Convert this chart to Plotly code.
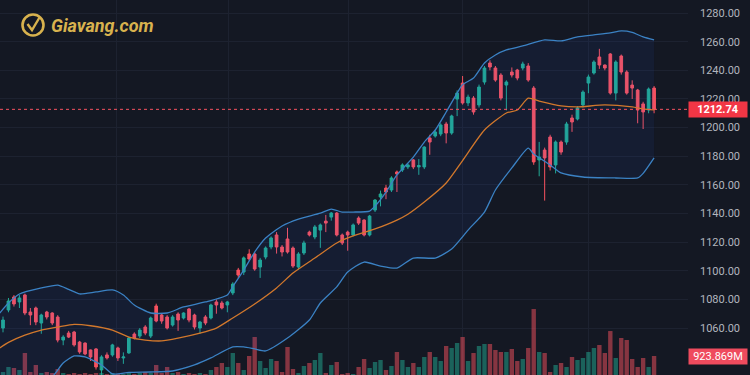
import plotly.graph_objects as go

# ---------------- data ----------------
opens = [1060.0, 1072.6, 1081.7, 1078.2, 1083.1, 1071.2, 1074.0, 1063.5, 1071.2, 1070.5,
         1067.7, 1051.6, 1056.5, 1057.2, 1050.2, 1049.5, 1044.7, 1045.4, 1030.7, 1041.2,
         1041.2, 1046.1, 1039.1, 1042.6, 1055.8, 1054.4, 1060.7, 1054.4, 1075.4, 1069.1,
         1067.7, 1062.1, 1069.8, 1067.0, 1073.3, 1069.1, 1060.0, 1067.7, 1067.0, 1078.2,
         1077.5, 1076.1, 1084.5, 1100.5, 1099.1, 1111.7, 1111.7, 1102.6, 1109.6, 1116.6,
         1125.0, 1116.6, 1122.2, 1115.9, 1102.6, 1112.4, 1127.0, 1123.6, 1128.4, 1134.7,
         1137.5, 1140.3, 1125.0, 1127.0, 1125.0, 1136.8, 1135.4, 1125.0, 1142.4, 1151.5,
         1157.8, 1156.4, 1169.0, 1170.4, 1172.5, 1177.4, 1172.5, 1172.5, 1192.7, 1194.1,
         1195.5, 1202.5, 1196.2, 1219.9, 1231.1, 1217.2, 1220.6, 1215.8, 1231.8, 1245.1,
         1241.6, 1236.7, 1229.7, 1238.8, 1240.2, 1241.6, 1243.0, 1227.6, 1177.4, 1184.3,
         1193.4, 1173.9, 1189.9, 1189.9, 1206.7, 1206.0, 1215.8, 1231.1, 1238.1, 1249.3,
         1243.7, 1251.4, 1224.1, 1250.0, 1238.8, 1229.7, 1226.2, 1216.5, 1212.3, 1227.6]

closes = [1065.6, 1078.9, 1076.8, 1081.0, 1070.5, 1069.1, 1064.2, 1069.1, 1067.7, 1063.5,
          1051.6, 1053.7, 1053.7, 1048.2, 1043.3, 1041.9, 1039.8, 1032.8, 1039.8, 1039.1,
          1048.2, 1039.1, 1039.8, 1053.0, 1053.0, 1058.6, 1056.5, 1067.0, 1064.9, 1064.9,
          1060.0, 1067.7, 1065.6, 1070.5, 1065.6, 1060.7, 1064.2, 1063.5, 1076.1, 1076.1,
          1074.0, 1078.2, 1090.7, 1097.0, 1109.0, 1108.2, 1101.2, 1107.5, 1115.9, 1122.9,
          1116.6, 1113.1, 1113.1, 1103.3, 1111.7, 1119.4, 1125.0, 1130.6, 1132.0, 1133.3,
          1140.3, 1125.0, 1119.4, 1125.0, 1132.0, 1133.3, 1125.0, 1138.2, 1149.4, 1153.6,
          1155.0, 1164.8, 1167.6, 1173.9, 1173.9, 1172.5, 1173.5, 1186.4, 1189.9, 1196.9,
          1201.8, 1196.2, 1208.1, 1224.1, 1217.2, 1221.3, 1210.9, 1228.3, 1241.6, 1242.3,
          1233.2, 1220.6, 1231.8, 1236.7, 1234.6, 1244.4, 1233.2, 1176.0, 1179.4, 1178.8,
          1172.5, 1189.9, 1182.9, 1202.5, 1203.9, 1213.7, 1224.8, 1235.3, 1245.8, 1243.7,
          1241.6, 1224.1, 1245.8, 1238.8, 1224.1, 1227.6, 1212.3, 1210.9, 1226.9, 1212.74]

highs = [1068, 1081, 1083, 1083, 1084, 1074, 1075, 1070, 1072, 1071,
         1069, 1055, 1058, 1058, 1051, 1050, 1045, 1046, 1041, 1043,
         1049, 1047, 1043, 1054, 1057, 1060, 1062, 1068, 1077, 1070,
         1069, 1069, 1071, 1071, 1074, 1070, 1065, 1069, 1077, 1080,
         1079, 1079, 1092, 1102, 1110, 1115, 1113, 1109, 1117, 1124,
         1127, 1118, 1130, 1117, 1113, 1121, 1128, 1132, 1133, 1139,
         1141, 1141, 1126, 1128, 1133, 1138, 1136, 1139, 1150, 1156,
         1160, 1166, 1170, 1175, 1175, 1178, 1178, 1187, 1195, 1198,
         1203, 1204, 1209, 1226, 1236, 1223, 1222, 1230, 1243, 1247,
         1243, 1238, 1233, 1242, 1241, 1246, 1245, 1229, 1190, 1186,
         1195, 1191, 1191, 1204, 1209, 1215, 1226, 1237, 1247, 1255,
         1244, 1252, 1247, 1251, 1240, 1233, 1227, 1218, 1228, 1229]

lows = [1057, 1071, 1075, 1074, 1069, 1062, 1062, 1056, 1066, 1062,
        1050, 1048, 1053, 1047, 1042, 1041, 1037, 1031, 1027, 1038,
        1040, 1037, 1035, 1042, 1052, 1053, 1055, 1053, 1064, 1063,
        1059, 1061, 1058, 1066, 1064, 1059, 1056, 1062, 1066, 1070,
        1073, 1071, 1083, 1095, 1097, 1107, 1100, 1095, 1108, 1115,
        1112, 1110, 1112, 1102, 1101, 1111, 1124, 1122, 1116, 1127,
        1135, 1124, 1118, 1114, 1124, 1132, 1124, 1124, 1141, 1145,
        1150, 1155, 1155, 1169, 1171, 1171, 1167, 1171, 1181, 1193,
        1194, 1189, 1195, 1208, 1216, 1215, 1209, 1214, 1230, 1240,
        1232, 1219, 1212, 1235, 1233, 1240, 1232, 1174, 1166, 1149,
        1170, 1168, 1181, 1188, 1197, 1205, 1214, 1224, 1237, 1241,
        1240, 1223, 1219, 1237, 1223, 1220, 1203, 1199, 1210, 1210]

# volume in millions
volumes = [146, 389, 340, 243, 1069, 146, 486, 97, 146, 97,
           292, 97, 49, 97, 49, 97, 49, 97, 97, 49,
           97, 49, 49, 97, 49, 97, 146, 97, 486, 97,
           389, 97, 146, 49, 97, 49, 97, 49, 243, 389,
           583, 389, 1069, 583, 243, 924, 1847, 680, 340, 778,
           680, 146, 1361, 292, 97, 437, 583, 729, 1069, 97,
           486, 632, 49, 97, 49, 389, 778, 340, 632, 729,
           243, 437, 1118, 729, 389, 583, 389, 875, 1118, 875,
           680, 1409, 1312, 1555, 1847, 680, 1069, 1409, 1507, 1507,
           1215, 1118, 1118, 1264, 680, 778, 1312, 3208, 1118, 1069,
           146, 486, 583, 389, 875, 729, 826, 1118, 1312, 1458,
           1069, 2138, 826, 1798, 1701, 778, 389, 826, 389, 923.869]

# Bollinger bands (bar index -> price)
upper_x = [-0.6, 1, 3, 7, 10, 12, 14, 17, 20, 22, 24, 27, 30, 33, 37, 41, 42, 44, 46, 48,
           51, 54, 58, 60, 62, 64, 67, 68, 70, 72, 75, 77, 79, 81, 83, 84, 86, 88, 90, 92,
           95, 99, 102, 105, 108, 111, 113, 115, 117, 119]
upper = [1070.5, 1077.5, 1083.8, 1088, 1090, 1087, 1083.8, 1085.2, 1086.6, 1083.1,
         1076.1, 1070.5, 1070.5, 1074.7, 1078.2, 1083.1, 1089, 1100.5, 1113.1, 1122.9,
         1131.3, 1136.1, 1140.3, 1143.1, 1141.0, 1141.0, 1141.7, 1145.2, 1155.0, 1166.9,
         1179.4, 1189.9, 1198.3, 1210.9, 1224.1, 1230, 1234.6, 1245.1, 1250.7, 1254.2,
         1257.0, 1261.2, 1260.5, 1263.3, 1264.7, 1266.1, 1267.5, 1266.5, 1263.3, 1261.2]

mid_x = [-0.6, 1, 4, 7, 10, 13, 16, 20, 23, 26, 29, 32, 36, 39, 42, 46, 50, 53, 57, 61,
         64, 68, 72, 74, 77, 81, 84, 88, 92, 94, 96, 98, 102, 105, 110, 115, 117, 119]
mid = [1046.1, 1050, 1055, 1058.6, 1060.7, 1062.6, 1061.6, 1058.6, 1053.7, 1051.6,
       1051.0, 1053.0, 1056.5, 1060.0, 1067, 1076.8, 1088, 1098.4, 1108.9, 1119.4,
       1124.3, 1129.2, 1135.4, 1139.5, 1148, 1161.3, 1177, 1198.3, 1210.2, 1212.3,
       1220.6, 1218.5, 1215.1, 1214.4, 1215.8, 1214.4, 1213.0, 1212.3]

lower_x = [-0.6, 5, 9, 11, 13, 15, 18, 20, 23, 27, 31, 35, 38, 42, 44, 46, 48, 52, 56, 58,
           61, 63, 66, 69, 72, 75, 79, 82, 85, 88, 90, 93, 96, 97, 100, 102, 106, 112, 116, 117,
           119]
lower = [1020, 1018, 1026, 1035.6, 1040.5, 1039.8, 1034.2, 1028.0, 1029, 1029.3,
         1030.0, 1034.2, 1039.1, 1046.8, 1046.8, 1045.4, 1044.0, 1053.0, 1065.6, 1077.5,
         1088.7, 1099.1, 1106.1, 1103.3, 1101.9, 1108.9, 1108.9, 1115.2, 1128.4, 1141.0,
         1156.4, 1171.8, 1185.7, 1181.5, 1173.9, 1168.3, 1165.5, 1164.8, 1164.8, 1168,
         1178.8]

price_ticks = [1060, 1080, 1100, 1120, 1140, 1160, 1180, 1200, 1220, 1240, 1260, 1280]
month_lines = [20.8, 41.2, 63.1, 84.0, 107.0]

# ---------------- styling ----------------
W, H = 750, 375
ML, MR = 0, 62
PW = W - ML - MR
BG = "#141823"
UP = "#22ab94"
DN = "#f7525f"
UP_V = "rgba(34,171,148,0.50)"
DN_V = "rgba(247,82,95,0.50)"
GRID = "#1d2230"
BAND = "#3b82c4"
MIDC = "#d2782c"

idx = list(range(len(opens)))
vol_colors = [UP_V if c >= o else DN_V for o, c in zip(opens, closes)]

fig = go.Figure()

# volume (bottom layer, axis y)
fig.add_trace(go.Bar(x=idx, y=volumes, marker_color=vol_colors, marker_line_width=0,
                     yaxis="y", hoverinfo="skip", showlegend=False))

# bands + candles on y2 (price)
fig.add_trace(go.Scatter(x=upper_x, y=upper, mode="lines", yaxis="y2",
                         line=dict(color=BAND, width=1.3, shape="spline", smoothing=0.6),
                         hoverinfo="skip", showlegend=False))
fig.add_trace(go.Scatter(x=lower_x, y=lower, mode="lines", yaxis="y2", fill="tonexty",
                         fillcolor="rgba(41,98,255,0.07)",
                         line=dict(color=BAND, width=1.3, shape="spline", smoothing=0.6),
                         hoverinfo="skip", showlegend=False))
fig.add_trace(go.Scatter(x=mid_x, y=mid, mode="lines", yaxis="y2",
                         line=dict(color=MIDC, width=1.3, shape="spline", smoothing=0.6),
                         hoverinfo="skip", showlegend=False))
fig.add_trace(go.Candlestick(x=idx, open=opens, high=highs, low=lows, close=closes,
                             yaxis="y2",
                             increasing=dict(line=dict(color=UP, width=1), fillcolor=UP),
                             decreasing=dict(line=dict(color=DN, width=1), fillcolor=DN),
                             whiskerwidth=0, hoverinfo="skip", showlegend=False))

last = closes[-1]
vol_top = volumes[-1] * H / 19.0   # last volume bar is ~19 px tall

fig.update_layout(
    width=W, height=H,
    margin=dict(l=ML, r=MR, t=0, b=0),
    paper_bgcolor=BG, plot_bgcolor=BG,
    bargap=0.2,
    showlegend=False,
    hovermode=False,
    font=dict(family="Roboto, Arial, sans-serif", color="#b2b5be", size=11),
    xaxis=dict(range=[-0.55, 125.2], showticklabels=False, tickvals=month_lines,
               showgrid=True, gridcolor=GRID, gridwidth=1, zeroline=False,
               rangeslider=dict(visible=False), showline=False, fixedrange=True),
    yaxis=dict(range=[0, vol_top], visible=False, showgrid=False, fixedrange=True),
    yaxis2=dict(range=[1027.2, 1289.1], overlaying="y", side="right",
                tickvals=price_ticks, ticktext=[f"{v:.2f}" for v in price_ticks],
                showgrid=True, gridcolor=GRID, gridwidth=1, zeroline=False,
                ticks="", ticklabelstandoff=11, showline=False,
                tickfont=dict(size=11, color="#b2b5be"), fixedrange=True),
)

# last price dotted line
fig.add_shape(type="line", xref="paper", x0=0, x1=1, yref="y2", y0=last, y1=last,
              line=dict(color=DN, width=1, dash="dot"))

# price / volume labels on the right scale
fig.add_annotation(xref="paper", x=1, xanchor="left", yref="y2", y=last,
                   text=f"<b>{last:.2f}</b>", showarrow=False, bgcolor="#f23645",
                   font=dict(color="white", size=11), width=56, height=13,
                   borderpad=1, align="center")
fig.add_annotation(xref="paper", x=1, xanchor="left", yref="y", y=volumes[-1],
                   text=f"{volumes[-1]:.3f}M", showarrow=False, bgcolor="#ef4b5e",
                   font=dict(color="white", size=11), width=56, height=13,
                   borderpad=1, align="center")

# logo
def px(x):
    return (x - ML) / PW

def py(y):
    return 1 - y / H

GOLD = "#d8b24e"
fig.add_shape(type="circle", xref="paper", yref="paper",
              x0=px(22.5), x1=px(43.5), y0=py(35.5), y1=py(14.5),
              line=dict(color=GOLD, width=2.6))
fig.add_shape(type="path", xref="paper", yref="paper",
              path=f"M {px(27.5)} {py(24)} L {px(32)} {py(30)} L {px(39.5)} {py(17.5)}",
              line=dict(color=GOLD, width=2.4))
fig.add_annotation(xref="paper", yref="paper", x=px(49), y=py(25.5), xanchor="left",
                   yanchor="middle", showarrow=False, text="<b><i>Giavang.com</i></b>",
                   font=dict(family="Roboto, Arial, sans-serif", size=18, color=GOLD))

fig.write_html("out.html",
               config={"displayModeBar": False, "staticPlot": True},
               post_script="document.body.style.margin='0';"
                           "document.body.style.background='" + BG + "';"
                           "document.body.style.overflow='hidden';")
